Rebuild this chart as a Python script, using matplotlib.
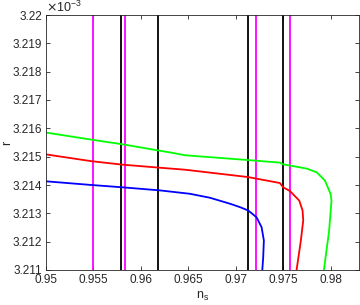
import matplotlib
matplotlib.use('Agg')
import matplotlib.pyplot as plt

# r values are in units of 1e-3 (axis shows x10^-3)
green_ns = [0.9500, 0.9548, 0.9580, 0.9620, 0.9634, 0.96465, 0.9713, 0.97466, 0.9750,
            0.97747, 0.97853, 0.9794, 0.9800, 0.9801, 0.97985, 0.97929]
green_r = [3.21585, 3.21560, 3.21544, 3.21521, 3.21513, 3.21505, 3.21488, 3.21479, 3.21473,
           3.21458, 3.21445, 3.21416, 3.21369, 3.21345, 3.21239, 3.21098]

red_ns = [0.9500, 0.9548, 0.9580, 0.9620, 0.96465, 0.9713, 0.97466, 0.9750,
          0.97571, 0.9767, 0.97705, 0.97712, 0.97687, 0.97641]
red_r = [3.21508, 3.21484, 3.21472, 3.21461, 3.21454, 3.21428, 3.21407, 3.21392,
         3.21379, 3.21345, 3.21310, 3.21275, 3.21204, 3.21098]

blue_ns = [0.9500, 0.9548, 0.9580, 0.9620, 0.96517, 0.96728, 0.96939, 0.97044,
           0.97132, 0.9722, 0.97273, 0.97297, 0.9729, 0.9728]
blue_r = [3.21413, 3.21400, 3.21392, 3.21381, 3.21369, 3.21355, 3.21334, 3.21322,
          3.21310, 3.21286, 3.21251, 3.21204, 3.21145, 3.21098]

black_lines = [0.9579, 0.9618, 0.9713, 0.9750]
magenta_lines = [0.9550, 0.9583, 0.9721, 0.9757]

xticks = [0.95, 0.955, 0.96, 0.965, 0.97, 0.975, 0.98]
yticks = [3.211, 3.212, 3.213, 3.214, 3.215, 3.216, 3.217, 3.218, 3.219, 3.22]

plt.rcParams['font.family'] = ['Liberation Sans', 'DejaVu Sans']

fig = plt.figure(figsize=(3.6, 3.05), dpi=100)
ax = fig.add_axes([46/360, 1 - 270/305, 313/360, 255/305])

for x in black_lines:
    ax.axvline(x, color='black', lw=1.3)
for x in magenta_lines:
    ax.axvline(x, color='#ff00ff', lw=1.3)

ax.plot(green_ns, green_r, color='#00ff00', lw=1.3)
ax.plot(red_ns, red_r, color='#ff0000', lw=1.3)
ax.plot(blue_ns, blue_r, color='#0000ff', lw=1.3)

ax.set_xlim(0.95, 0.983)
ax.set_ylim(3.211, 3.22)
ax.set_xticks(xticks)
ax.set_xticklabels([f'{t:g}' for t in xticks])
ax.set_yticks(yticks)
ax.set_yticklabels([f'{t:g}' for t in yticks])
ax.tick_params(direction='in', top=True, right=True, length=3, width=0.6,
               labelsize=8.5, colors='#262626')
ax.tick_params(axis='y', pad=3)
ax.tick_params(axis='x', pad=3)
for s in ax.spines.values():
    s.set_color('#262626')
    s.set_linewidth(0.6)

ax.set_xlabel('n$_\\mathregular{s}$', fontsize=9, color='#262626', labelpad=3)
ax.set_ylabel('r', fontsize=9, color='#262626')
ax.yaxis.set_label_coords(-0.105, 0.5)
ax.text(0.0, 1.0, '$\\times$10$^{\\mathregular{-3}}$', transform=ax.transAxes,
        fontsize=9, color='#262626', ha='left', va='bottom')

fig.savefig('out.png', dpi=100)
